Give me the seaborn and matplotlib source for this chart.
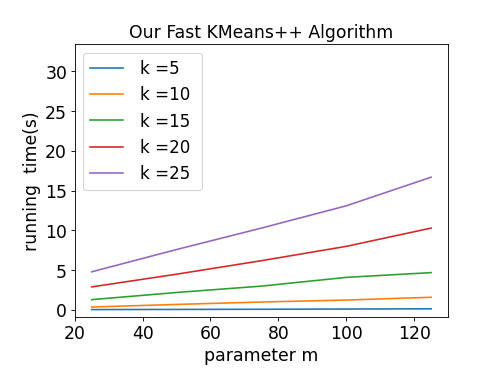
import matplotlib
matplotlib.use('Agg')
import matplotlib.pyplot as plt
import pandas as pd
import seaborn as sns

m_values = [25, 50, 75, 100, 125]
k_values = [5, 10, 15, 20, 25]
time_k5 = [0.05, 0.07, 0.09, 0.12, 0.15]
time_k10 = [0.37, 0.7, 1.0, 1.25, 1.6]
time_k15 = [1.3, 2.2, 3.0, 4.1, 4.7]
time_k20 = [2.9, 4.5, 6.2, 8.0, 10.3]
time_k25 = [4.8, 7.6, 10.3, 13.1, 16.7]

series = [time_k5, time_k10, time_k15, time_k20, time_k25]
rows = []
for k, times in zip(k_values, series):
    for m, t in zip(m_values, times):
        rows.append({'m': m, 'time': t, 'k': f'k ={k} '})
df = pd.DataFrame(rows)

fig, ax = plt.subplots(figsize=(6.4, 4.8), dpi=77.8)
sns.lineplot(data=df, x='m', y='time', hue='k', palette='tab10', ax=ax)

ax.set_title('Our Fast KMeans++ Algorithm', fontsize=16)
ax.set_xlabel('parameter m', fontsize=16)
ax.set_ylabel('running  time(s)', fontsize=16)
ax.tick_params(labelsize=16)
ax.set_ylim(-0.88, 33.4)
ax.legend(title=None, fontsize=15.5, loc='upper left', handletextpad=1.0)
plt.subplots_adjust(left=0.15, bottom=0.15, right=0.9, top=0.88)

plt.savefig('out.png', dpi=77.8)
